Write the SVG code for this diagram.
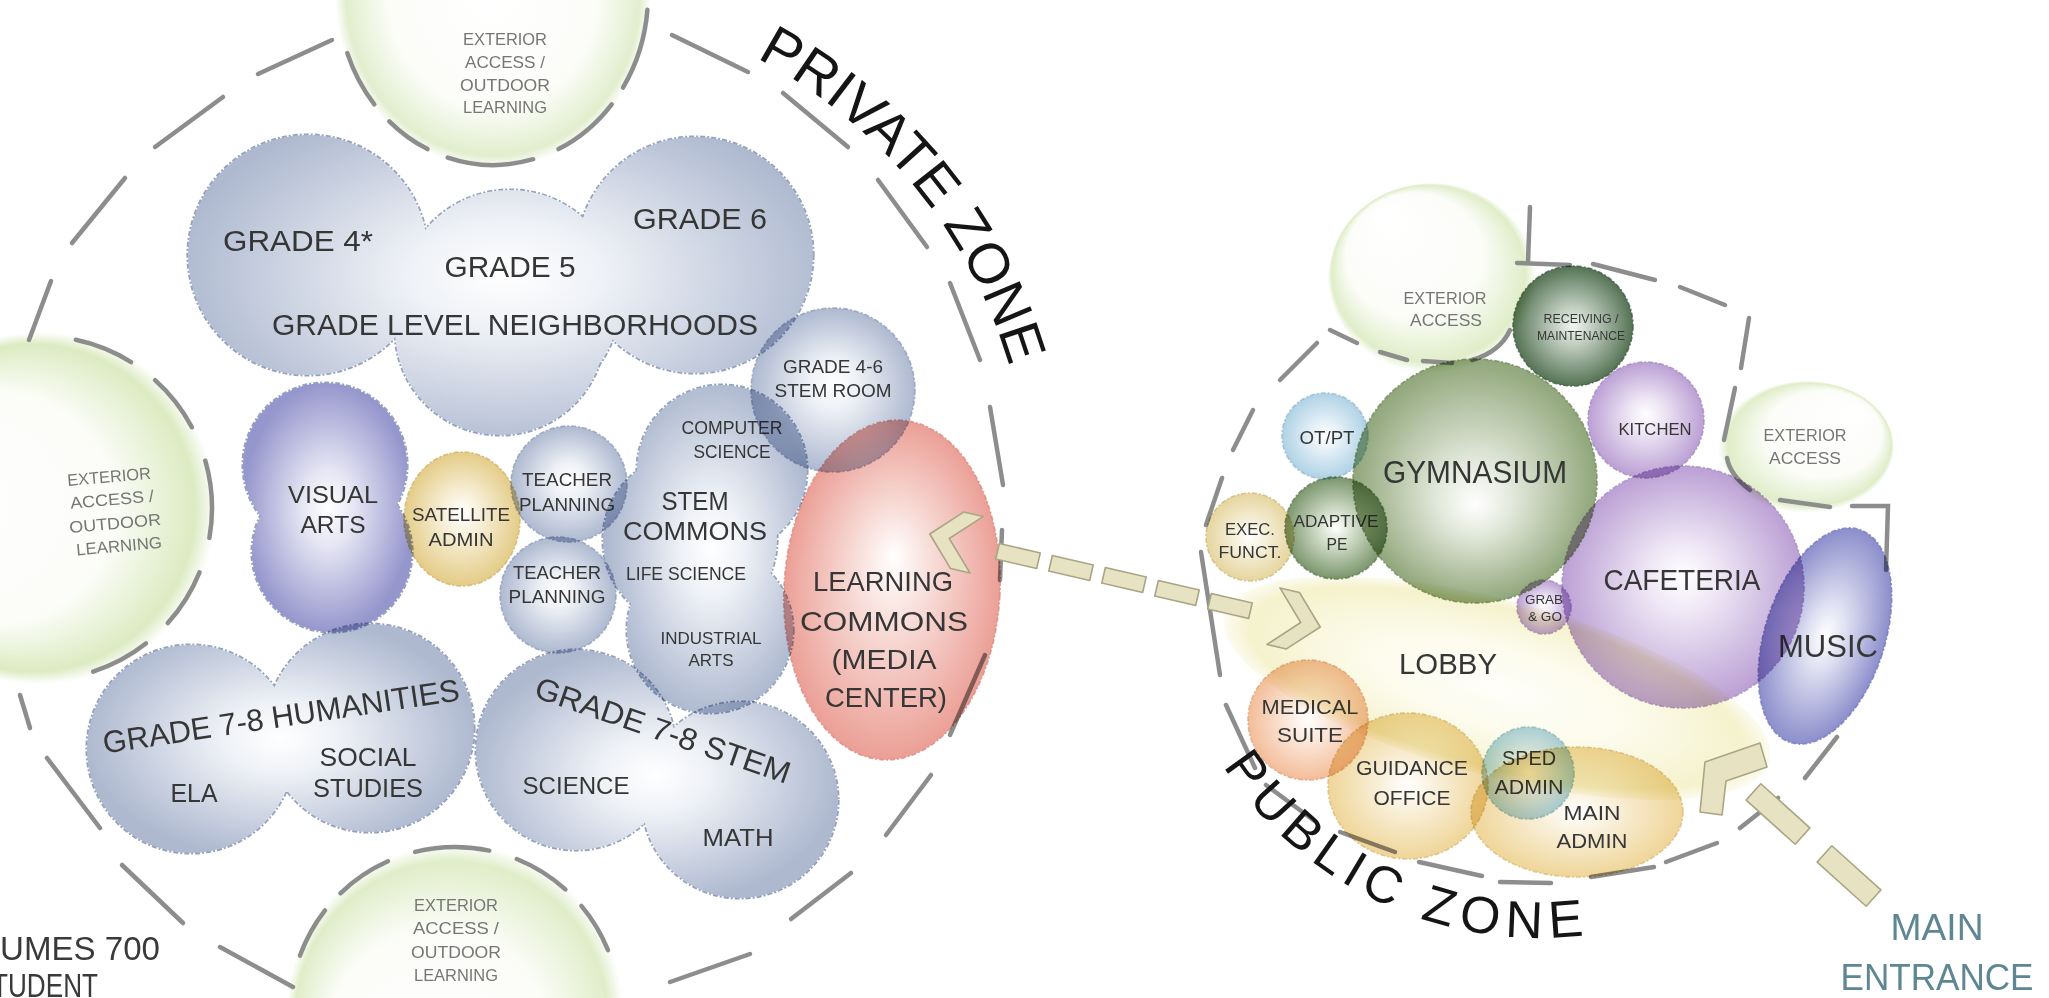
<svg xmlns="http://www.w3.org/2000/svg" width="2049" height="998" viewBox="0 0 2049 998">
<style>
.t{font-family:"Liberation Sans",Arial,sans-serif;fill:#363636;text-anchor:middle}
.tx{fill:#767676}
.zone{font-family:"Liberation Sans",Arial,sans-serif;fill:#151515}
.ring path{fill:none;stroke:#8d8d8d;stroke-width:4.5;stroke-linecap:round}
.mb{mix-blend-mode:multiply}
.bs{stroke-width:1.6;stroke-dasharray:5 2 2 2;stroke-opacity:.75}
.ol{fill:none;stroke:#95a2bd;stroke-width:3.2;stroke-dasharray:5 2 2 2}
.arr{fill:#e6e2c2;stroke:#a9a585;stroke-width:1.6;stroke-linejoin:round}
</style>
<defs>
<radialGradient id="gExt" cx=".5" cy=".5" r=".5"><stop offset="0" stop-color="#fff"/><stop offset=".65" stop-color="#fcfdf9"/><stop offset=".93" stop-color="#e2eece"/><stop offset="1" stop-color="#e2eece" stop-opacity="0"/></radialGradient>
<radialGradient id="gExtL" cx=".5" cy=".5" r=".5" fx=".15" fy=".5"><stop offset="0" stop-color="#fff"/><stop offset=".65" stop-color="#fcfdf9"/><stop offset=".93" stop-color="#dcebc2"/><stop offset="1" stop-color="#dcebc2" stop-opacity="0"/></radialGradient>
<radialGradient id="gExtB" cx=".5" cy=".5" r=".5" fx=".35" fy=".75"><stop offset="0" stop-color="#fff"/><stop offset=".65" stop-color="#fcfdf9"/><stop offset=".93" stop-color="#e0edc9"/><stop offset="1" stop-color="#e0edc9" stop-opacity="0"/></radialGradient>
<radialGradient id="gExt2" cx=".5" cy=".5" r=".5" fx=".25" fy=".15"><stop offset="0" stop-color="#fff"/><stop offset=".65" stop-color="#fcfdf9"/><stop offset=".93" stop-color="#e0edc9"/><stop offset="1" stop-color="#e0edc9" stop-opacity="0"/></radialGradient>
<radialGradient id="gExt3" cx=".5" cy=".5" r=".5" fx=".8" fy=".2"><stop offset="0" stop-color="#fff"/><stop offset=".65" stop-color="#fcfdf9"/><stop offset=".93" stop-color="#e0edc9"/><stop offset="1" stop-color="#e0edc9" stop-opacity="0"/></radialGradient>
<radialGradient id="gGrade" gradientUnits="userSpaceOnUse" cx="505" cy="275" r="330" gradientTransform="translate(0 123.75) scale(1 0.55)"><stop offset="0" stop-color="#fff"/><stop offset=".3" stop-color="#eef1f6"/><stop offset="1" stop-color="#aeb9d0"/></radialGradient>
<radialGradient id="gVA" gradientUnits="userSpaceOnUse" cx="328" cy="508" r="125" gradientTransform="translate(104.96 0) scale(0.68 1)"><stop offset="0" stop-color="#fff"/><stop offset=".3" stop-color="#e6e6f4"/><stop offset="1" stop-color="#9596cc"/></radialGradient>
<radialGradient id="gHum" gradientUnits="userSpaceOnUse" cx="280" cy="738" r="195" gradientTransform="translate(0 280.44) scale(1 0.62)"><stop offset="0" stop-color="#fff"/><stop offset=".3" stop-color="#eef1f6"/><stop offset="1" stop-color="#aeb9d0"/></radialGradient>
<radialGradient id="gS78" gradientUnits="userSpaceOnUse" cx="655" cy="775" r="185" gradientTransform="translate(0 232.5) scale(1 0.7)"><stop offset="0" stop-color="#fff"/><stop offset=".3" stop-color="#eef1f6"/><stop offset="1" stop-color="#aeb9d0"/></radialGradient>
<radialGradient id="gStem" gradientUnits="userSpaceOnUse" cx="712" cy="548" r="168" gradientTransform="translate(270.56 0) scale(0.62 1)"><stop offset="0" stop-color="#fff"/><stop offset=".3" stop-color="#eef1f6"/><stop offset="1" stop-color="#aeb9d0"/></radialGradient>
<radialGradient id="gB" cx=".5" cy=".5" r=".5" fy=".45"><stop offset="0" stop-color="#fff"/><stop offset=".3" stop-color="#eef1f6"/><stop offset="1" stop-color="#aeb9d0"/></radialGradient>
<radialGradient id="gY" cx=".5" cy=".5" r=".5" fy=".45"><stop offset="0" stop-color="#fff"/><stop offset=".3" stop-color="#f8f1dc"/><stop offset="1" stop-color="#e4cc87"/></radialGradient>
<radialGradient id="gS" cx=".5" cy=".5" r=".5" fy=".4"><stop offset="0" stop-color="#fff"/><stop offset=".3" stop-color="#f9e2de"/><stop offset="1" stop-color="#eb9f96"/></radialGradient>
<radialGradient id="gGY" cx=".5" cy=".5" r=".5" fy=".6"><stop offset="0" stop-color="#fff"/><stop offset=".3" stop-color="#e3e9dc"/><stop offset="1" stop-color="#90a67a"/></radialGradient>
<radialGradient id="gDG" cx=".5" cy=".5" r=".5"><stop offset="0" stop-color="#f2f5f2"/><stop offset=".35" stop-color="#bccabc"/><stop offset="1" stop-color="#557355"/></radialGradient>
<radialGradient id="gAP" cx=".5" cy=".5" r=".5"><stop offset="0" stop-color="#fff"/><stop offset=".3" stop-color="#d8e2d0"/><stop offset="1" stop-color="#7b966d"/></radialGradient>
<radialGradient id="gLB" cx=".5" cy=".5" r=".5"><stop offset="0" stop-color="#fff"/><stop offset=".3" stop-color="#e8f2f8"/><stop offset="1" stop-color="#afd2e5"/></radialGradient>
<radialGradient id="gP" cx=".5" cy=".5" r=".5" fy=".45"><stop offset="0" stop-color="#fff"/><stop offset=".3" stop-color="#eee6f5"/><stop offset="1" stop-color="#bba0d4"/></radialGradient>
<radialGradient id="gM" cx=".5" cy=".5" r=".5"><stop offset="0" stop-color="#fff"/><stop offset=".3" stop-color="#e0e1f2"/><stop offset="1" stop-color="#8b8ecb"/></radialGradient>
<radialGradient id="gL" cx=".5" cy=".5" r=".5"><stop offset="0" stop-color="#fffefa"/><stop offset=".5" stop-color="#fcfbeb"/><stop offset=".9" stop-color="#f5f2cc"/><stop offset="1" stop-color="#f5f2cc" stop-opacity=".3"/></radialGradient>
<radialGradient id="gPE" cx=".5" cy=".5" r=".5"><stop offset="0" stop-color="#fff"/><stop offset=".3" stop-color="#fcebe0"/><stop offset="1" stop-color="#f3bd99"/></radialGradient>
<radialGradient id="gGO" cx=".5" cy=".5" r=".5"><stop offset="0" stop-color="#fff"/><stop offset=".3" stop-color="#faf2df"/><stop offset="1" stop-color="#efd598"/></radialGradient>
<radialGradient id="gSP" cx=".5" cy=".5" r=".5"><stop offset="0" stop-color="#fff"/><stop offset=".3" stop-color="#e8f2f6"/><stop offset="1" stop-color="#abd0df"/></radialGradient>
<radialGradient id="gEX" cx=".5" cy=".5" r=".5"><stop offset="0" stop-color="#fff"/><stop offset=".3" stop-color="#f7f2e0"/><stop offset="1" stop-color="#e6d59e"/></radialGradient>
<path id="pzPrivate" d="M756.3 58 A510 510 0 0 1 1022.3 421.4"/>
<path id="pzPublic" d="M1223 766 A378 378 0 0 0 1606 932"/>
</defs>
<rect width="2049" height="998" fill="#fff"/>

<!-- exterior access bubbles (private) -->
<g id="ext-top" class="mb">
<ellipse cx="493" cy="-5" rx="158" ry="173" fill="url(#gExt)"/>
<text class="t tx" font-size="16.5" x="505" y="45" textLength="84" lengthAdjust="spacingAndGlyphs">EXTERIOR</text>
<text class="t tx" font-size="16.5" x="505" y="68" textLength="80" lengthAdjust="spacingAndGlyphs">ACCESS /</text>
<text class="t tx" font-size="16.5" x="505" y="91" textLength="90" lengthAdjust="spacingAndGlyphs">OUTDOOR</text>
<text class="t tx" font-size="16.5" x="505" y="113" textLength="84" lengthAdjust="spacingAndGlyphs">LEARNING</text>
</g>
<g id="ext-left" class="mb">
<circle cx="40" cy="508" r="176" fill="url(#gExtL)"/>
<g transform="rotate(-5 114 511)">
<text class="t tx" font-size="16.5" x="112" y="482" textLength="84" lengthAdjust="spacingAndGlyphs">EXTERIOR</text>
<text class="t tx" font-size="16.5" x="113" y="505" textLength="84" lengthAdjust="spacingAndGlyphs">ACCESS /</text>
<text class="t tx" font-size="16.5" x="114" y="529" textLength="92" lengthAdjust="spacingAndGlyphs">OUTDOOR</text>
<text class="t tx" font-size="16.5" x="116" y="552" textLength="86" lengthAdjust="spacingAndGlyphs">LEARNING</text>
</g>
</g>
<g id="ext-bottom" class="mb">
<circle cx="455" cy="1012" r="168" fill="url(#gExtB)"/>
<text class="t tx" font-size="16.5" x="456" y="911" textLength="84" lengthAdjust="spacingAndGlyphs">EXTERIOR</text>
<text class="t tx" font-size="16.5" x="456" y="934" textLength="86" lengthAdjust="spacingAndGlyphs">ACCESS /</text>
<text class="t tx" font-size="16.5" x="456" y="958" textLength="90" lengthAdjust="spacingAndGlyphs">OUTDOOR</text>
<text class="t tx" font-size="16.5" x="456" y="981" textLength="84" lengthAdjust="spacingAndGlyphs">LEARNING</text>
</g>

<!-- exterior access bubbles (public) -->
<g id="ext-pub-top" class="mb">
<ellipse cx="1432" cy="278" rx="104" ry="95" fill="url(#gExt2)"/>
<text class="t tx" font-size="17" x="1445" y="304" textLength="83" lengthAdjust="spacingAndGlyphs">EXTERIOR</text>
<text class="t tx" font-size="17" x="1446" y="326" textLength="72" lengthAdjust="spacingAndGlyphs">ACCESS</text>
</g>
<g id="ext-pub-right" class="mb">
<ellipse cx="1806" cy="447" rx="88" ry="66" fill="url(#gExt3)"/>
<text class="t tx" font-size="17" x="1805" y="441" textLength="83" lengthAdjust="spacingAndGlyphs">EXTERIOR</text>
<text class="t tx" font-size="17" x="1805" y="464" textLength="72" lengthAdjust="spacingAndGlyphs">ACCESS</text>
</g>

<!-- zone boundaries -->
<g id="private-zone-boundary" class="ring">
<path d="M258 74 L332 40"/>
<path d="M155 147 L223 97"/>
<path d="M72 243 L125 178"/>
<path d="M51 281 L29 340"/>
<path d="M20 695 L30 728"/>
<path d="M47 758 L100 828"/>
<path d="M122 865 L183 923"/>
<path d="M220 947 L293 987"/>
<path d="M670 982 L750 954"/>
<path d="M791 919 L851 873"/>
<path d="M886 835 L931 775"/>
<path d="M950 735 L985 655"/>
<path d="M1000 580 L1002 530"/>
<path d="M1003 485 L990 407"/>
<path d="M980 360 L950 283"/>
<path d="M927 247 L878 180"/>
<path d="M848 147 L783 93"/>
<path d="M748 72 L672 35"/>
<path d="M347.3 53.1 A155 170 0 0 0 374.3 104.3"/>
<path d="M389.3 121.3 A155 170 0 0 0 427.5 149.1"/>
<path d="M447.7 157.6 A155 170 0 0 0 533.1 159.2"/>
<path d="M558.5 149.1 A155 170 0 0 0 611.7 104.3"/>
<path d="M623 87.6 A155 170 0 0 0 647.4 9.8"/>
<path d="M75.8 339.8 A172 172 0 0 1 131.1 362.1"/>
<path d="M155.1 380.2 A172 172 0 0 1 191.9 427.2"/>
<path d="M205.3 460.6 A172 172 0 0 1 209.4 537.9"/>
<path d="M199.5 572.4 A172 172 0 0 1 167.8 623.1"/>
<path d="M145.9 643.5 A172 172 0 0 1 93.1 671.6"/>
<path d="M300 955.6 A165 165 0 0 1 325 910.4"/>
<path d="M340.4 893.3 A165 165 0 0 1 387.9 861.3"/>
<path d="M415.1 851.9 A165 165 0 0 1 489.3 850.6"/>
<path d="M516.8 859 A165 165 0 0 1 565.4 889.4"/>
<path d="M581.4 905.9 A165 165 0 0 1 608 950.2"/>
</g>
<g id="public-zone-boundary" class="ring">
<path d="M1201 552 L1220 675"/>
<path d="M1226 705 L1255 768"/>
<path d="M1266 785 L1316 822"/>
<path d="M1340 832 L1395 852"/>
<path d="M1419 862 L1482 876"/>
<path d="M1500 882 L1551 883"/>
<path d="M1591 877 L1654 867"/>
<path d="M1666 862 L1717 843"/>
<path d="M1740 828 L1778 798"/>
<path d="M1805 778 L1837 737"/>
<path d="M1886 570 L1888 506 L1852 506"/>
<path d="M1830 507 L1780 500"/>
<path d="M1750 490 Q1730 475 1727 458"/>
<path d="M1724 440 L1735 388"/>
<path d="M1741 368 L1749 318"/>
<path d="M1725 305 L1680 287"/>
<path d="M1655 280 L1593 264"/>
<path d="M1570 265 L1517 263"/>
<path d="M1530 207 L1528 262"/>
<path d="M1510 330 Q1500 352 1472 360"/>
<path d="M1452 363 L1423 361"/>
<path d="M1407 360 L1380 352"/>
<path d="M1357 343 L1330 330"/>
<path d="M1317 343 L1280 380"/>
<path d="M1253 410 L1233 450"/>
<path d="M1222 478 L1206 525"/>
</g>

<!-- private zone nodes -->
<g id="grade-level-neighborhoods" class="mb">
<g class="ol"><circle cx="308" cy="255" r="120"/><circle cx="695" cy="255" r="118"/><circle cx="510" cy="300" r="110"/><circle cx="500" cy="330" r="105"/></g>
<g fill="url(#gGrade)"><circle cx="308" cy="255" r="120"/><circle cx="695" cy="255" r="118"/><circle cx="510" cy="300" r="110"/><circle cx="500" cy="330" r="105"/></g>
<text class="t" font-size="30" x="298" y="251" textLength="150" lengthAdjust="spacingAndGlyphs">GRADE 4*</text>
<text class="t" font-size="30" x="510" y="277" textLength="131" lengthAdjust="spacingAndGlyphs">GRADE 5</text>
<text class="t" font-size="30" x="700" y="229" textLength="134" lengthAdjust="spacingAndGlyphs">GRADE 6</text>
<text class="t" font-size="30" x="515" y="335" textLength="486" lengthAdjust="spacingAndGlyphs">GRADE LEVEL NEIGHBORHOODS</text>
</g>
<g id="stem-room" class="mb">
<circle class="bs" cx="833" cy="390" r="82" fill="url(#gB)" stroke="#8d9bb8"/>
<text class="t" font-size="18" x="833" y="373" textLength="100" lengthAdjust="spacingAndGlyphs">GRADE 4-6</text>
<text class="t" font-size="18" x="833" y="397" textLength="117" lengthAdjust="spacingAndGlyphs">STEM ROOM</text>
</g>
<g id="visual-arts" class="mb">
<g class="ol" stroke="#7c7eba"><circle cx="325" cy="465" r="82"/><circle cx="332" cy="552" r="80"/></g>
<g fill="url(#gVA)"><circle cx="325" cy="465" r="82"/><circle cx="332" cy="552" r="80"/></g>
<text class="t" font-size="24" x="333" y="503" textLength="90" lengthAdjust="spacingAndGlyphs">VISUAL</text>
<text class="t" font-size="24" x="333" y="533" textLength="65" lengthAdjust="spacingAndGlyphs">ARTS</text>
</g>
<g id="satellite-admin" class="mb">
<ellipse class="bs" cx="462" cy="519" rx="58" ry="67" fill="url(#gY)" stroke="#cdb168"/>
<text class="t" font-size="19" x="461" y="521" textLength="98" lengthAdjust="spacingAndGlyphs">SATELLITE</text>
<text class="t" font-size="19" x="461" y="546" textLength="65" lengthAdjust="spacingAndGlyphs">ADMIN</text>
</g>
<g id="teacher-planning-1" class="mb">
<circle class="bs" cx="569" cy="484" r="58" fill="url(#gB)" stroke="#8d9bb8"/>
<text class="t" font-size="19" x="567" y="486" textLength="90" lengthAdjust="spacingAndGlyphs">TEACHER</text>
<text class="t" font-size="19" x="567" y="511" textLength="96" lengthAdjust="spacingAndGlyphs">PLANNING</text>
</g>
<g id="teacher-planning-2" class="mb">
<circle class="bs" cx="558" cy="595" r="58" fill="url(#gB)" stroke="#8d9bb8"/>
<text class="t" font-size="19" x="557" y="579" textLength="88" lengthAdjust="spacingAndGlyphs">TEACHER</text>
<text class="t" font-size="19" x="557" y="603" textLength="97" lengthAdjust="spacingAndGlyphs">PLANNING</text>
</g>
<g id="stem-commons" class="mb">
<g class="ol"><circle cx="722" cy="470" r="85"/><circle cx="690" cy="540" r="87"/><circle cx="710" cy="630" r="83"/></g>
<g fill="url(#gStem)"><circle cx="722" cy="470" r="85"/><circle cx="690" cy="540" r="87"/><circle cx="710" cy="630" r="83"/></g>
<text class="t" font-size="18" x="732" y="434" textLength="101" lengthAdjust="spacingAndGlyphs">COMPUTER</text>
<text class="t" font-size="18" x="732" y="458" textLength="77" lengthAdjust="spacingAndGlyphs">SCIENCE</text>
<text class="t" font-size="25" x="695" y="510" textLength="67" lengthAdjust="spacingAndGlyphs">STEM</text>
<text class="t" font-size="25" x="695" y="540" textLength="144" lengthAdjust="spacingAndGlyphs">COMMONS</text>
<text class="t" font-size="18" x="686" y="580" textLength="120" lengthAdjust="spacingAndGlyphs">LIFE SCIENCE</text>
<text class="t" font-size="17" x="711" y="644" textLength="101" lengthAdjust="spacingAndGlyphs">INDUSTRIAL</text>
<text class="t" font-size="17" x="711" y="666" textLength="45" lengthAdjust="spacingAndGlyphs">ARTS</text>
</g>
<g id="learning-commons" class="mb">
<ellipse class="bs" cx="892" cy="590" rx="108" ry="170" transform="rotate(3 892 590)" fill="url(#gS)" stroke="#d8857c"/>
<text class="t" font-size="28" x="883" y="591" textLength="140" lengthAdjust="spacingAndGlyphs">LEARNING</text>
<text class="t" font-size="28" x="884" y="631" textLength="168" lengthAdjust="spacingAndGlyphs">COMMONS</text>
<text class="t" font-size="28" x="884" y="669" textLength="105" lengthAdjust="spacingAndGlyphs">(MEDIA</text>
<text class="t" font-size="28" x="886" y="707" textLength="122" lengthAdjust="spacingAndGlyphs">CENTER)</text>
</g>
<g id="grade-7-8-humanities" class="mb">
<g class="ol"><circle cx="191" cy="749" r="104"/><circle cx="370" cy="728" r="104"/></g>
<g fill="url(#gHum)"><circle cx="191" cy="749" r="104"/><circle cx="370" cy="728" r="104"/></g>
<text class="t" font-size="31" x="281" y="727" transform="rotate(-8.5 281 716)" textLength="360" lengthAdjust="spacingAndGlyphs">GRADE 7-8 HUMANITIES</text>
<text class="t" font-size="25" x="368" y="766" textLength="97" lengthAdjust="spacingAndGlyphs">SOCIAL</text>
<text class="t" font-size="25" x="368" y="797" textLength="110" lengthAdjust="spacingAndGlyphs">STUDIES</text>
<text class="t" font-size="25" x="194" y="802" textLength="47" lengthAdjust="spacingAndGlyphs">ELA</text>
</g>
<g id="grade-7-8-stem" class="mb">
<g class="ol"><circle cx="576" cy="750" r="100"/><circle cx="740" cy="800" r="98"/></g>
<g fill="url(#gS78)"><circle cx="576" cy="750" r="100"/><circle cx="740" cy="800" r="98"/></g>
<text class="t" font-size="31" x="663" y="741" transform="rotate(19 663 730)" textLength="268" lengthAdjust="spacingAndGlyphs">GRADE 7-8 STEM</text>
<text class="t" font-size="24" x="576" y="794" textLength="107" lengthAdjust="spacingAndGlyphs">SCIENCE</text>
<text class="t" font-size="24" x="738" y="846" textLength="71" lengthAdjust="spacingAndGlyphs">MATH</text>
</g>

<!-- public zone nodes -->
<g id="lobby">
<ellipse cx="1497" cy="688" rx="282" ry="88" transform="rotate(15 1497 688)" fill="url(#gL)"/>
<text class="t" font-size="30" x="1448" y="674" textLength="98" lengthAdjust="spacingAndGlyphs">LOBBY</text>
</g>
<g id="gymnasium" class="mb">
<circle class="bs" cx="1475" cy="481" r="122" fill="url(#gGY)" stroke="#6e8659"/>
<text class="t" font-size="31" x="1475" y="483" textLength="184" lengthAdjust="spacingAndGlyphs">GYMNASIUM</text>
</g>
<g id="receiving-maintenance" class="mb">
<circle class="bs" cx="1573" cy="326" r="60" fill="url(#gDG)" stroke="#405a40"/>
<text class="t" font-size="12.5" x="1581" y="323" textLength="75" lengthAdjust="spacingAndGlyphs">RECEIVING /</text>
<text class="t" font-size="12.5" x="1581" y="340" textLength="88" lengthAdjust="spacingAndGlyphs">MAINTENANCE</text>
</g>
<g id="ot-pt" class="mb">
<circle class="bs" cx="1325" cy="436" r="43" fill="url(#gLB)" stroke="#8fb7cc"/>
<text class="t" font-size="18" x="1327" y="444" textLength="55" lengthAdjust="spacingAndGlyphs">OT/PT</text>
</g>
<g id="adaptive-pe" class="mb">
<circle class="bs" cx="1336" cy="528" r="51" fill="url(#gAP)" stroke="#5f7a52"/>
<text class="t" font-size="17" x="1336" y="527" textLength="85" lengthAdjust="spacingAndGlyphs">ADAPTIVE</text>
<text class="t" font-size="17" x="1337" y="550" textLength="21" lengthAdjust="spacingAndGlyphs">PE</text>
</g>
<g id="exec-funct" class="mb">
<circle class="bs" cx="1250" cy="537" r="44" fill="url(#gEX)" stroke="#cdb776"/>
<text class="t" font-size="17" x="1250" y="535" textLength="50" lengthAdjust="spacingAndGlyphs">EXEC.</text>
<text class="t" font-size="17" x="1250" y="558" textLength="63" lengthAdjust="spacingAndGlyphs">FUNCT.</text>
</g>
<g id="kitchen" class="mb">
<circle class="bs" cx="1646" cy="420" r="58" fill="url(#gP)" stroke="#a387be"/>
<text class="t" font-size="17" x="1655" y="435" textLength="73" lengthAdjust="spacingAndGlyphs">KITCHEN</text>
</g>
<g id="cafeteria" class="mb">
<circle class="bs" cx="1683" cy="587" r="121" fill="url(#gP)" stroke="#a387be"/>
<text class="t" font-size="30" x="1682" y="590" textLength="157" lengthAdjust="spacingAndGlyphs">CAFETERIA</text>
</g>
<g id="grab-go" class="mb">
<circle class="bs" cx="1544" cy="607" r="27" fill="url(#gP)" stroke="#a387be"/>
<text class="t" font-size="13" x="1544" y="604" textLength="38" lengthAdjust="spacingAndGlyphs">GRAB</text>
<text class="t" font-size="13" x="1545" y="621" textLength="34" lengthAdjust="spacingAndGlyphs">&amp; GO</text>
</g>
<g id="music" class="mb">
<ellipse class="bs" cx="1825" cy="636" rx="60" ry="112" transform="rotate(18 1825 636)" fill="url(#gM)" stroke="#7376b5"/>
<text class="t" font-size="31" x="1828" y="657" textLength="100" lengthAdjust="spacingAndGlyphs">MUSIC</text>
</g>
<g id="medical-suite" class="mb">
<circle class="bs" cx="1308" cy="720" r="60" fill="url(#gPE)" stroke="#e0a07a"/>
<text class="t" font-size="20" x="1310" y="714" textLength="97" lengthAdjust="spacingAndGlyphs">MEDICAL</text>
<text class="t" font-size="20" x="1310" y="742" textLength="66" lengthAdjust="spacingAndGlyphs">SUITE</text>
</g>
<g id="guidance-office" class="mb">
<ellipse class="bs" cx="1408" cy="786" rx="80" ry="73" fill="url(#gGO)" stroke="#d9b874"/>
<text class="t" font-size="20" x="1412" y="775" textLength="112" lengthAdjust="spacingAndGlyphs">GUIDANCE</text>
<text class="t" font-size="20" x="1412" y="805" textLength="77" lengthAdjust="spacingAndGlyphs">OFFICE</text>
</g>
<g id="main-admin" class="mb">
<ellipse class="bs" cx="1577" cy="812" rx="106" ry="65" fill="url(#gGO)" stroke="#d9b874"/>
<text class="t" font-size="20" x="1592" y="820" textLength="57" lengthAdjust="spacingAndGlyphs">MAIN</text>
<text class="t" font-size="20" x="1592" y="848" textLength="71" lengthAdjust="spacingAndGlyphs">ADMIN</text>
</g>
<g id="sped-admin" class="mb">
<circle class="bs" cx="1528" cy="773" r="46" fill="url(#gSP)" stroke="#8cb6c6"/>
<text class="t" font-size="20" x="1529" y="765" textLength="54" lengthAdjust="spacingAndGlyphs">SPED</text>
<text class="t" font-size="20" x="1529" y="794" textLength="69" lengthAdjust="spacingAndGlyphs">ADMIN</text>
</g>

<!-- connectors -->
<g id="connectors">
<g id="arrow-learning-commons-lobby" class="arr">
<polygon points="-17,-29 3,-29 31,0 3,29 -17,29 11,0" transform="translate(960 541) rotate(193)"/>
<rect x="-21" y="-8" width="42" height="16" transform="translate(1018 556) rotate(13)"/>
<rect x="-21" y="-8" width="42" height="16" transform="translate(1071 568) rotate(13)"/>
<rect x="-21" y="-8" width="42" height="16" transform="translate(1124 580) rotate(13)"/>
<rect x="-21" y="-8" width="42" height="16" transform="translate(1177 593) rotate(13)"/>
<rect x="-21" y="-8" width="42" height="16" transform="translate(1230 606) rotate(13)"/>
<polygon points="-17,-29 3,-29 31,0 3,29 -17,29 11,0" transform="translate(1290 620) rotate(13)"/>
</g>
<g id="arrow-main-entrance" class="arr">
<polygon points="1700,812 1705,762 1760,743 1767,767 1726,781 1722,815"/>
<rect x="-33" y="-11" width="66" height="22" transform="translate(1778 814) rotate(42)"/>
<rect x="-33" y="-11" width="66" height="22" transform="translate(1849 876) rotate(42)"/>
</g>
</g>

<!-- labels -->
<g id="zone-labels">
<text class="zone" font-size="57"><textPath href="#pzPrivate" textLength="410" lengthAdjust="spacing">PRIVATE ZONE</textPath></text>
<text class="zone" font-size="52"><textPath href="#pzPublic" textLength="420" lengthAdjust="spacing">PUBLIC ZONE</textPath></text>
<text class="t" font-size="36" x="1937" y="940" style="fill:#5e8792" textLength="93" lengthAdjust="spacingAndGlyphs">MAIN</text>
<text class="t" font-size="36" x="1937" y="990" style="fill:#5e8792" textLength="193" lengthAdjust="spacingAndGlyphs">ENTRANCE</text>
<text class="t" font-size="33" x="0" y="960" style="text-anchor:start;fill:#3a3a3a" textLength="160" lengthAdjust="spacingAndGlyphs">UMES 700</text>
<text class="t" font-size="33" x="-8" y="997" style="text-anchor:start;fill:#3a3a3a" textLength="106" lengthAdjust="spacingAndGlyphs">TUDENT</text>
</g>
</svg>
